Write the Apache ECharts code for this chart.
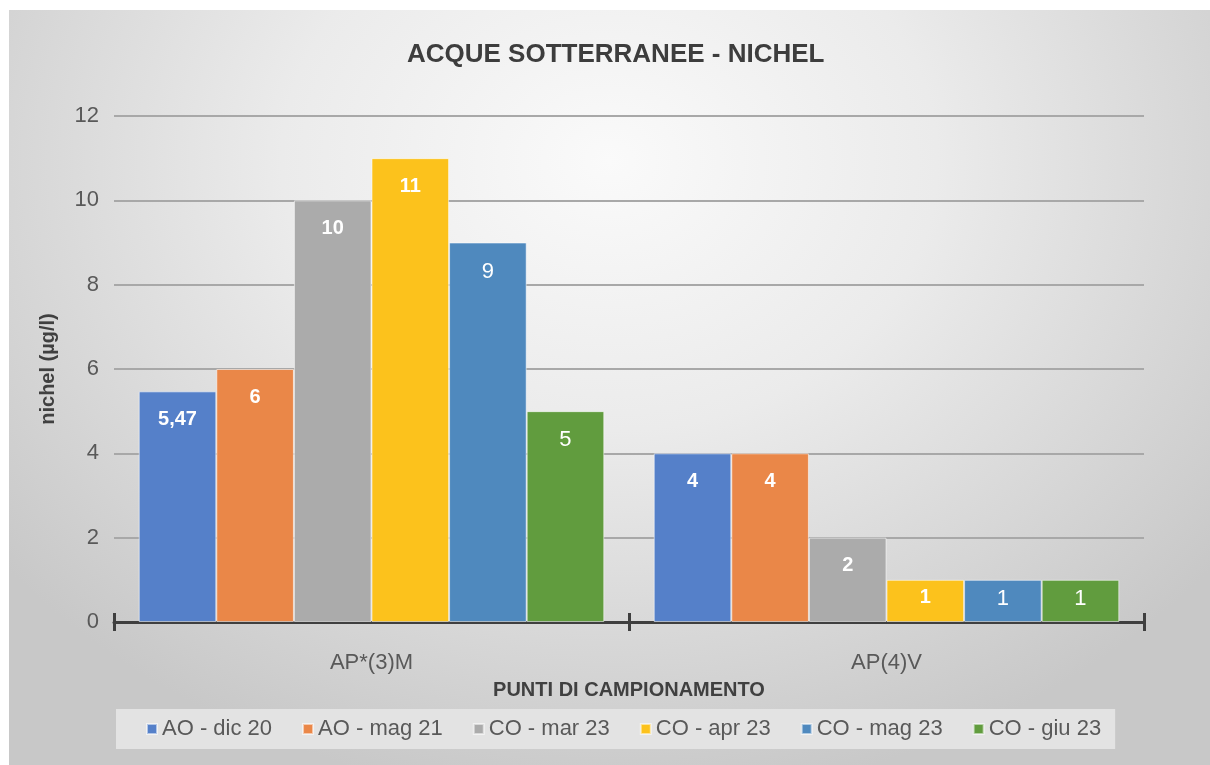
<!DOCTYPE html>
<html>
<head>
<meta charset="utf-8">
<script src="https://cdn.jsdelivr.net/npm/echarts@6/dist/echarts.min.js"></script>
<style>
  html, body { margin: 0; padding: 0; background: #fff; }
  #bg {
    position: absolute; left: 9px; top: 10px; right: 0; bottom: 0;
    background: radial-gradient(ellipse 65% 85% at 50% 20%, #fafafa 0%, #ebebeb 42%, #c8c8c8 100%);
  }
  #chart { position: absolute; left: 0; top: 0; width: 1210px; height: 765px; }
</style>
</head>
<body>
<div id="bg"></div>
<div id="chart"></div>
<script>
// categorie (punti di campionamento)
var categories = ["AP*(3)M", "AP(4)V"];
// campagne
var seriesNames = ["AO - dic 20", "AO - mag 21", "CO - mar 23", "CO - apr 23", "CO - mag 23", "CO - giu 23"];
var dic20 = [5.47, 4];
var mag21 = [6, 4];
var mar23 = [10, 2];
var apr23 = [11, 1];
var mag23 = [9, 1];
var giu23 = [5, 1];
var yTicks = [0, 2, 4, 6, 8, 10, 12];

var colors = ["#5580c9", "#ea8748", "#ababab", "#fcc21c", "#4f89be", "#619c3e"];
var boldLabel = [true, true, true, true, false, false];
var font = "'Liberation Sans', Arial, sans-serif";

var allData = [dic20, mag21, mar23, apr23, mag23, giu23];

var series = allData.map(function (d, i) {
  return {
    name: seriesNames[i],
    type: "bar",
    // barre basse: etichetta più vicina al bordo
    data: d.map(function (v) {
      return { value: v, label: { distance: v < 1.5 ? 8 : 18 } };
    }),
    barGap: "0%",
    barCategoryGap: "9.6%",
    itemStyle: { color: colors[i], borderColor: "rgba(255,255,255,0.55)", borderWidth: 1 },
    label: {
      show: true,
      position: "insideTop",
      color: "#fff",
      fontFamily: font,
      fontSize: boldLabel[i] ? 20 : 22,
      fontWeight: boldLabel[i] ? "bold" : "normal",
      formatter: function (p) {
        return String(p.value).replace(".", ",");
      }
    }
  };
});

var myChart = echarts.init(document.getElementById("chart"));
var option = {
  animation: false,
  textStyle: { fontFamily: font },
  title: {
    text: "ACQUE SOTTERRANEE - NICHEL",
    left: 407,
    top: 42,
    padding: 0,
    textStyle: { fontSize: 26, fontWeight: "bold", color: "#3d3d3d", fontFamily: font }
  },
  legend: {
    data: seriesNames,
    left: 116,
    top: 709,
    padding: [9, 14, 9, 30],
    itemGap: 30,
    itemWidth: 10,
    itemHeight: 10,
    icon: "rect",
    backgroundColor: "#e3e3e3",
    textStyle: { fontSize: 22, color: "#595959", fontFamily: font }
  },
  grid: { left: 114, right: 66, top: 116, bottom: 143 },
  xAxis: [
    {
      type: "category",
      data: categories,
      position: "bottom",
      axisLine: { lineStyle: { color: "#3f3f3f", width: 3 } },
      axisTick: { show: true, length: 9, lineStyle: { color: "#3f3f3f", width: 3 } },
      axisLabel: { fontSize: 22, color: "#595959", margin: 30 },
      name: "PUNTI DI CAMPIONAMENTO",
      nameLocation: "middle",
      nameGap: 58,
      nameTextStyle: { fontSize: 20, fontWeight: "bold", color: "#404040" }
    },
    {
      type: "category",
      data: categories,
      position: "bottom",
      axisLine: { show: false },
      axisTick: { show: true, inside: true, length: 9, lineStyle: { color: "#3f3f3f", width: 3 } },
      axisLabel: { show: false }
    }
  ],
  yAxis: {
    type: "value",
    min: yTicks[0],
    max: yTicks[yTicks.length - 1],
    interval: yTicks[1] - yTicks[0],
    axisLine: { show: false },
    axisTick: { show: false },
    axisLabel: { fontSize: 22, color: "#595959", margin: 15 },
    splitLine: { lineStyle: { color: "#a8a8a8", width: 2 } },
    name: "nichel (µg/l)",
    nameLocation: "middle",
    nameGap: 56,
    nameRotate: 90,
    nameTextStyle: { fontSize: 20, fontWeight: "bold", color: "#404040" }
  },
  series: series
};
myChart.setOption(option);
</script>
</body>
</html>
